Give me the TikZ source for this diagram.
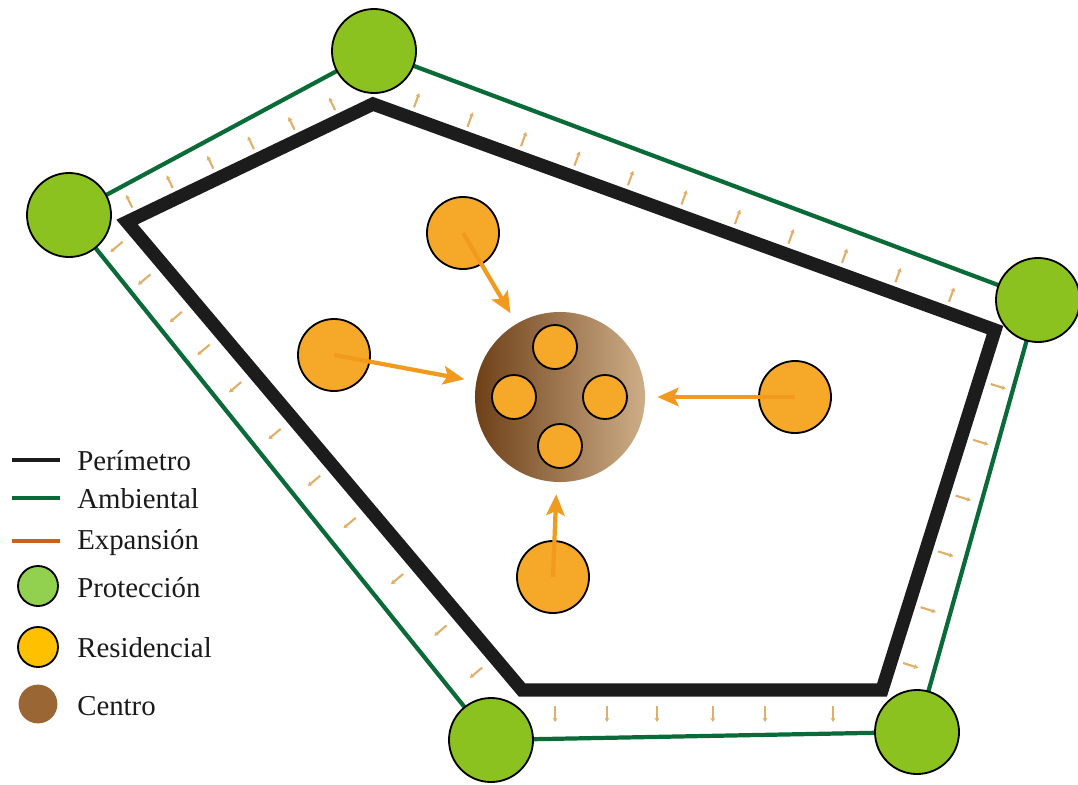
\documentclass[tikz,border=0pt]{standalone}
\usepackage{fontspec}
\setmainfont{Liberation Serif}
\usepackage{xcolor}
\usepackage{tikz}
\usetikzlibrary{calc,positioning,arrows.meta,backgrounds}
\definecolor{ZonaPerimetro}{HTML}{1C1C1C}
\definecolor{ZonaAmbiental}{HTML}{0B6B38}
\definecolor{ZonaExpansion}{HTML}{C8621E}
\definecolor{ZonaTick}{HTML}{E0B06A}
\definecolor{ZonaProteccion}{HTML}{8CC21F}
\definecolor{ZonaProteccionLeg}{HTML}{92D050}
\definecolor{ZonaResidencial}{HTML}{F6A828}
\definecolor{ZonaResidencialLeg}{HTML}{FFC000}
\definecolor{ZonaFlecha}{HTML}{F29A1E}
\definecolor{ZonaCentroDark}{HTML}{6E4018}
\definecolor{ZonaCentroMid}{HTML}{A07244}
\definecolor{ZonaCentroLight}{HTML}{CDAE88}
\definecolor{ZonaCentroLeg}{HTML}{9A6634}
\definecolor{ZonaTexto}{HTML}{1A1A1A}

\tikzset{
  proteccion/.style={circle, draw=black, line width=1.3pt, fill=ZonaProteccion,
    minimum size=2.1cm, inner sep=0pt},
  residencial/.style={circle, draw=black, line width=1.3pt, fill=ZonaResidencial,
    minimum size=1.8cm, inner sep=0pt},
  nucleo/.style={residencial, minimum size=1.1cm},
  centro/.style={circle, minimum size=4.25cm, inner sep=0pt,
    left color=ZonaCentroDark, middle color=ZonaCentroMid, right color=ZonaCentroLight},
  perimetro/.style={draw=ZonaPerimetro, line width=9.5pt, line join=miter},
  ambiental/.style={draw=ZonaAmbiental, line width=3pt},
  expansion/.style={draw=ZonaTick, line width=1.5pt, -{Stealth[length=3pt,width=3.5pt]}},
  flujo/.style={draw=ZonaFlecha, line width=3pt,
    -{Stealth[length=15pt,width=13pt,inset=3pt]}, shorten >=0.3cm},
  leyenda/.style={anchor=west, inner sep=0pt, text=ZonaTexto,
    font=\fontsize{20.5}{24}\selectfont},
  leyendalinea/.style={line width=2.8pt}
}

\begin{document}
\begin{tikzpicture}[x=0.025cm, y=-0.025cm]
  \useasboundingbox (0,0) rectangle (1078,784);

  \coordinate (A) at (373,104);
  \coordinate (B) at (127,222);
  \coordinate (C) at (995,330);
  \coordinate (D) at (882,690);
  \coordinate (E) at (522,690);

  \node[proteccion] (p1) at (69,215) {};
  \node[proteccion] (p2) at (374,51) {};
  \node[proteccion] (p3) at (1038,300) {};
  \node[proteccion] (p4) at (491,740) {};
  \node[proteccion] (p5) at (917,732) {};

  \begin{scope}[on background layer]
    \draw[ambiental] (p1.center) -- (p2.center) -- (p3.center) -- (p5.center)
      -- (p4.center) -- cycle;
  \end{scope}

  \draw[perimetro] (B) -- (A) -- (C) -- (D) -- (E) -- cycle;

  \foreach \s/\e/\a/\b/\ts in {
      B/A/0.27cm/0.62cm/{0.04,0.205,0.37,0.535,0.70,0.865},
      A/C/0.27cm/0.65cm/{0.06,0.146,0.232,0.318,0.404,0.49,0.576,0.662,0.748,0.834,0.92},
      C/D/0.3cm/0.7cm/{0.14,0.295,0.45,0.605,0.76,0.915},
      D/E/0.4cm/0.8cm/{0.136,0.325,0.47,0.625,0.764,0.908},
      E/B/0.4cm/0.8cm/{0.07,0.16,0.27,0.39,0.48,0.58,0.68,0.76,0.83,0.91,0.98}}
    \foreach \t in \ts {
      \coordinate (tk) at ($(\s)!\t!(\e)$);
      \draw[expansion] ($(tk)!\a!90:(\e)$) -- ($(tk)!\b!90:(\e)$);
    }

  \node[residencial] (rtop) at (463,233) {};
  \node[residencial] (rleft) at (334,355) {};
  \node[residencial] (rright) at (795,397) {};
  \node[residencial] (rbottom) at (553,577) {};

  \node[centro] (centro) at (560,397) {};
  \node[nucleo] (n1) at (555,347) {};
  \node[nucleo] (n2) at (514,397) {};
  \node[nucleo] (n3) at (605,397) {};
  \node[nucleo] (n4) at (560,446) {};

  \draw[flujo] (rtop.center) -- (centro);
  \draw[flujo] (rleft.center) -- (centro);
  \draw[flujo] (rright.center) -- (centro);
  \draw[flujo] (rbottom.center) -- (centro);

  \draw[leyendalinea, ZonaPerimetro] (12,460) -- (60,460);
  \draw[leyendalinea, ZonaAmbiental] (12,498) -- (60,498);
  \draw[leyendalinea, ZonaExpansion] (12,541) -- (60,541);
  \node[proteccion, fill=ZonaProteccionLeg, minimum size=1cm] (lprot) at (38,586) {};
  \node[residencial, fill=ZonaResidencialLeg, minimum size=1cm] (lres) at (38,647) {};
  \node[circle, fill=ZonaCentroLeg, minimum size=0.97cm, inner sep=0pt] (lcen) at (38,704) {};

  \node[leyenda] (tperim) at (77,461) {Perímetro};
  \node[leyenda] (tamb) at (77,499) {Ambiental};
  \node[leyenda] (texp) at (77,543) {Expansión};
  \node[leyenda] (tprot) at (77,588) {Protección};
  \node[leyenda] (tres) at (77,648) {Residencial};
  \node[leyenda] (tcen) at (77,706) {Centro};
\end{tikzpicture}
\end{document}
